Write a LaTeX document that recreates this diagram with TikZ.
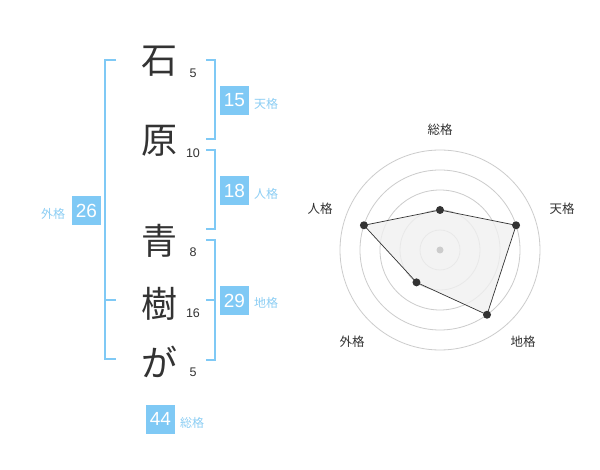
\documentclass[tikz,border=0pt]{standalone}
\usepackage{fontspec}
\usetikzlibrary{calc}
\setmainfont{Liberation Sans}
\newfontfamily\cjk{Noto Sans CJK JP}
\definecolor{brk}{RGB}{127,201,245}
\definecolor{boxc}{RGB}{127,201,245}
\definecolor{lbl}{RGB}{140,206,244}
\definecolor{ink}{RGB}{51,51,51}
\definecolor{ring}{RGB}{204,204,204}
\definecolor{area}{RGB}{240,240,240}
\tikzset{
  kanji/.style={inner sep=0pt, text=ink, font=\cjk\fontsize{36}{36}\selectfont},
  strokes/.style={inner sep=0pt, text=ink, font=\fontsize{12.5}{13}\selectfont},
  numbox/.style={fill=boxc, text=white, minimum width=28.5pt, minimum height=29pt, inner sep=0pt, font=\fontsize{19}{19}\selectfont},
  kaku/.style={inner sep=0pt, text=lbl, font=\cjk\fontsize{12}{12}\selectfont},
  bracket/.style={draw=brk, line width=2pt},
  axislbl/.style={inner sep=0pt, text=ink, font=\cjk\fontsize{12.5}{13}\selectfont},
  ringline/.style={draw=ring, line width=0.8pt},
  dot/.style={circle, fill=ink, inner sep=0pt, minimum size=8pt},
}
\begin{document}
\begin{tikzpicture}[x=1pt,y=-1pt]
\useasboundingbox[fill=white] (0,0) rectangle (600,470);
% characters
\node[kanji] (c1) at (159,61) {石};
\node[kanji] (c2) at (159,141) {原};
\node[kanji] (c3) at (159,241) {青};
\node[kanji] (c4) at (159,304) {樹};
\node[kanji] (c5) at (159,362) {が};
% stroke counts
\node[strokes] (s1) at (193,73) {5};
\node[strokes] (s2) at (193,153) {10};
\node[strokes] (s3) at (193,252) {8};
\node[strokes] (s4) at (193,313) {16};
\node[strokes] (s5) at (193,372) {5};
% brackets
\draw[bracket] (116,60) -- (105,60) -- (105,359) -- (116,359);
\draw[bracket] (105,300) -- (116,300);
\draw[bracket] (206,60) -- (215,60) -- (215,139) -- (206,139);
\draw[bracket] (206,150) -- (215,150) -- (215,229) -- (206,229);
\draw[bracket] (206,240) -- (215,240) -- (215,360) -- (206,360);
\draw[bracket] (206,300) -- (215,300);
% boxes
\node[numbox] (b15) at (234.5,100.5) {15};
\node[kaku] (k15) at (266,104) {天格};
\node[numbox] (b18) at (234.5,190.5) {18};
\node[kaku] (k18) at (266,194) {人格};
\node[numbox] (b29) at (234.5,300.5) {29};
\node[kaku] (k29) at (266,303) {地格};
\node[numbox] (b26) at (86.5,210.5) {26};
\node[kaku] (k26) at (53,213.5) {外格};
\node[numbox] (b44) at (160.5,419) {44};
\node[kaku] (k44) at (192,423) {総格};
% radar
\coordinate (O) at (440,250);
\foreach \r in {20,40,60,80,100}{
  \draw[ringline] (O) circle (\r);
}
\coordinate (p1) at ($(O)+(-90:40)$);
\coordinate (p2) at ($(O)+(-18:80)$);
\coordinate (p3) at ($(O)+(54:80)$);
\coordinate (p4) at ($(O)+(126:40)$);
\coordinate (p5) at ($(O)+(198:80)$);
\filldraw[fill=area, fill opacity=0.8, draw=ink, line width=0.7pt] (p1) -- (p2) -- (p3) -- (p4) -- (p5) -- cycle;
\foreach \p in {p1,p2,p3,p4,p5}{ \node[dot] at (\p) {}; }
\node[circle, fill=ring, inner sep=0pt, minimum size=7pt] (ctr) at (O) {};
\node[axislbl] (a1) at (440,130) {総格};
\node[axislbl] (a2) at (562,208.5) {天格};
\node[axislbl] (a3) at (523,342) {地格};
\node[axislbl] (a4) at (352,342) {外格};
\node[axislbl] (a5) at (320,208.5) {人格};
\end{tikzpicture}
\end{document}
